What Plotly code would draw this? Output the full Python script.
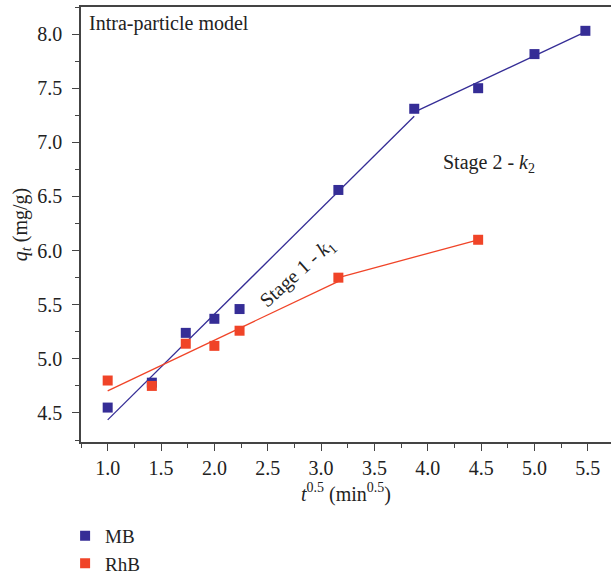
import numpy as np
import plotly.graph_objects as go

# Intra-particle diffusion data: t^0.5 (min^0.5) vs q_t (mg/g)
mb_x = [1.0, 1.414, 1.732, 2.0, 2.236, 3.162, 3.873, 4.472, 5.0, 5.477]
mb_y = [4.55, 4.78, 5.24, 5.37, 5.46, 6.56, 7.31, 7.50, 7.815, 8.03]
rhb_x = [1.0, 1.414, 1.732, 2.0, 2.236, 3.162, 4.472]
rhb_y = [4.80, 4.75, 5.14, 5.12, 5.26, 5.75, 6.10]

x_ticks = [1.0, 1.5, 2.0, 2.5, 3.0, 3.5, 4.0, 4.5, 5.0, 5.5]
y_ticks = [4.5, 5.0, 5.5, 6.0, 6.5, 7.0, 7.5, 8.0]

MB_COLOR = "#352d96"
RHB_COLOR = "#f04428"
FONT = "Liberation Serif"
TEXT_COLOR = "#222222"
AXIS_COLOR = "#444444"
FS = 20


def fit_segment(xs, ys):
    slope, intercept = np.polyfit(xs, ys, 1)
    xe = np.array([xs[0], xs[-1]])
    return xe, slope * xe + intercept


fig = go.Figure()

# Linear fits for each stage
mb1 = fit_segment(mb_x[:7], mb_y[:7])
mb2 = fit_segment(mb_x[6:], mb_y[6:])
rhb1 = fit_segment(rhb_x[:6], rhb_y[:6])
rhb2 = (np.array(rhb_x[5:]), np.array(rhb_y[5:]))

for (lx, ly), col in [(mb1, MB_COLOR), (mb2, MB_COLOR), (rhb1, RHB_COLOR), (rhb2, RHB_COLOR)]:
    fig.add_trace(go.Scatter(x=lx, y=ly, mode="lines", line=dict(color=col, width=1.3),
                             showlegend=False, hoverinfo="skip"))

fig.add_trace(go.Scatter(x=mb_x, y=mb_y, mode="markers", name="MB",
                         marker=dict(symbol="square", size=10, color=MB_COLOR)))
fig.add_trace(go.Scatter(x=rhb_x, y=rhb_y, mode="markers", name="RhB",
                         marker=dict(symbol="square", size=10, color=RHB_COLOR)))

axis_common = dict(
    showline=True, linecolor=AXIS_COLOR, linewidth=1.5,
    ticks="outside", ticklen=7, tickwidth=1.3, tickcolor=AXIS_COLOR,
    showgrid=False, zeroline=False, automargin=False,
    tickfont=dict(family=FONT, size=FS, color=TEXT_COLOR),
)

fig.update_xaxes(
    range=[0.75, 5.717], tickvals=x_ticks, ticktext=[f"{v:.1f}" for v in x_ticks],
    mirror=True,
    minor=dict(ticks="outside", ticklen=4, tickwidth=1.2, tickcolor=AXIS_COLOR,
               dtick=0.25, showgrid=False),
    title=dict(text="<i>t</i><sup>0.5</sup> (min<sup>0.5</sup>)",
               font=dict(family=FONT, size=FS, color=TEXT_COLOR), standoff=9),
    **axis_common,
)
fig.update_yaxes(
    range=[4.232, 8.25], tickvals=y_ticks, ticktext=[f"{v:.1f}" for v in y_ticks],
    minor=dict(ticks="outside", ticklen=4, tickwidth=1.2, tickcolor=AXIS_COLOR,
               dtick=0.25, showgrid=False),
    ticklabelstandoff=6,
    title=dict(text="<i>q</i><sub><i>t</i></sub> (mg/g)",
               font=dict(family=FONT, size=FS, color=TEXT_COLOR), standoff=4),
    **axis_common,
)

fig.add_annotation(x=0.012, y=0.961, xref="paper", yref="paper", xanchor="left",
                   yanchor="middle", showarrow=False, text="Intra-particle model",
                   font=dict(family=FONT, size=FS, color=TEXT_COLOR))
fig.add_annotation(x=2.78, y=5.785, showarrow=False, textangle=-42,
                   text="Stage 1 - <i>k</i><sub>1</sub>",
                   font=dict(family=FONT, size=FS, color=TEXT_COLOR))
fig.add_annotation(x=4.57, y=6.80, showarrow=False,
                   text="Stage 2 - <i>k</i><sub>2</sub>",
                   font=dict(family=FONT, size=FS, color=TEXT_COLOR))

fig.update_layout(
    width=611, height=577,
    margin=dict(l=81, r=0, t=7, b=135, autoexpand=False),
    paper_bgcolor="white", plot_bgcolor="white",
    font=dict(family=FONT, size=FS, color=TEXT_COLOR),
    legend=dict(x=-0.03, y=-0.172, xanchor="left", yanchor="top",
                font=dict(family=FONT, size=19, color=TEXT_COLOR),
                tracegroupgap=0, itemwidth=30, bgcolor="rgba(0,0,0,0)"),
)

fig.write_html("out.html")
